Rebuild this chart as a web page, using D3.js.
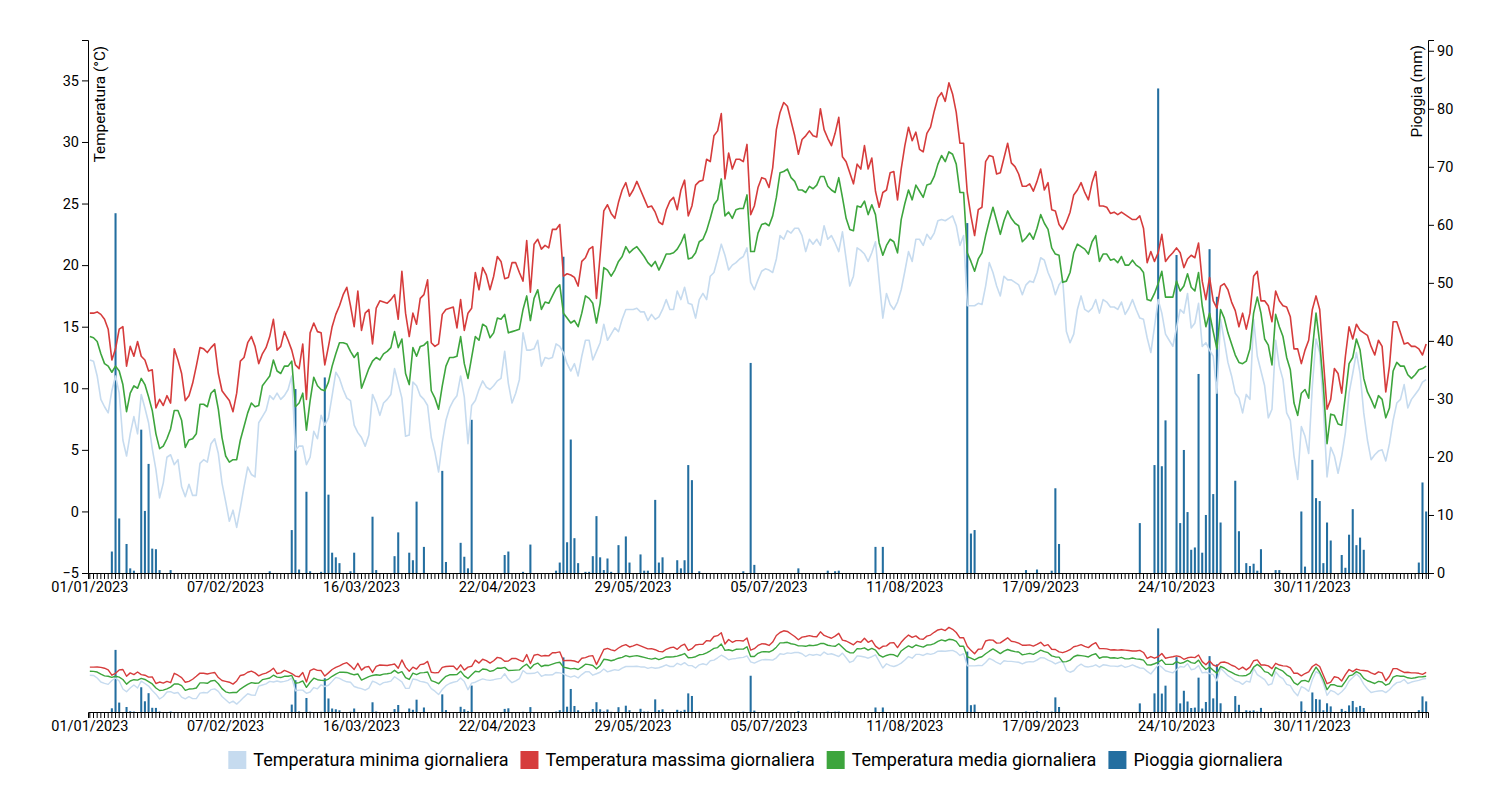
<!DOCTYPE html>
<html><head><meta charset="utf-8">
<script src="https://cdn.jsdelivr.net/npm/d3@7"></script>
<style>
body{margin:0;background:#fff;}
svg{font-family:Roboto, "Noto Sans", sans-serif;}
</style></head><body>
<svg id="chart" width="1496" height="796"></svg>
<script>
const startDate = "2023-01-01";
const tickLabels = ["01/01/2023","07/02/2023","16/03/2023","22/04/2023","29/05/2023","05/07/2023","11/08/2023","17/09/2023","24/10/2023","30/11/2023"];
const seriesNames = ["Temperatura minima giornaliera","Temperatura massima giornaliera","Temperatura media giornaliera","Pioggia giornaliera"];
const seriesColors = ["#c6dbef","#d63c3c","#3da53d","#236ea0"];
const yLeftTitle = "Temperatura (°C)";
const yRightTitle = "Pioggia (mm)";

const tMax = [
16.1,16.1,16.2,16.0,15.6,14.8,12.3,13.2,14.8,15.0,
11.8,13.4,12.6,13.8,12.6,12.3,11.4,11.5,8.4,9.1,
8.6,9.4,8.8,13.2,12.3,11.2,9.0,9.4,10.4,11.8,
13.3,13.2,12.9,13.3,13.6,11.2,9.8,9.4,9.0,8.1,
9.6,12.2,12.5,13.7,14.2,13.4,12.0,12.8,13.3,14.2,
15.6,13.1,13.4,14.6,13.9,13.1,11.9,11.6,13.6,9.1,
14.5,15.3,14.6,14.5,11.9,13.4,15.0,16.0,16.7,17.6,
18.2,16.7,15.0,17.9,14.7,16.1,16.4,13.6,16.5,17.1,
17.0,16.9,17.2,17.6,15.6,19.5,16.1,14.2,16.1,15.2,
17.3,17.6,18.8,13.7,13.4,13.6,16.0,16.4,16.5,16.6,
14.9,17.2,14.7,16.1,16.5,19.4,18.0,19.8,19.2,18.0,
19.1,20.7,20.3,18.9,19.0,20.2,20.2,19.4,18.7,22.0,
17.8,21.7,22.1,21.3,21.6,21.4,22.9,22.9,23.3,19.1,
19.3,19.2,19.0,18.3,20.3,20.6,21.3,21.5,17.3,20.8,
24.4,24.9,24.2,23.8,25.1,26.1,26.7,25.6,26.1,26.8,
26.1,25.4,24.7,24.8,24.3,23.5,23.3,24.5,25.2,25.5,
24.5,26.1,26.9,24.0,24.8,26.5,26.8,26.9,28.6,28.4,
30.5,30.9,32.3,27.0,29.1,27.8,28.6,28.6,28.4,29.8,
24.1,24.8,26.3,27.1,27.0,26.3,27.9,31.0,32.4,33.2,
32.9,31.7,30.5,29.0,30.2,30.5,30.9,30.5,30.4,32.7,
31.0,30.3,29.7,30.7,32.0,28.8,28.4,27.5,26.6,28.2,
27.8,29.7,27.8,28.7,26.0,24.7,25.9,26.1,27.5,27.6,
25.3,27.8,29.7,31.2,30.1,30.8,29.4,29.2,30.7,31.2,
32.5,33.6,34.0,33.3,34.8,33.9,32.4,29.9,29.9,25.9,
24.0,22.4,24.5,24.7,28.4,28.9,28.8,27.4,27.5,28.7,
29.9,28.3,28.0,27.4,26.4,26.4,26.6,26.0,26.8,27.8,
26.1,26.7,24.5,24.4,23.3,22.9,23.5,24.3,25.7,26.1,
26.7,25.9,25.3,26.7,27.6,24.8,24.8,24.7,24.2,24.3,
24.1,24.3,24.1,23.9,23.7,23.7,24.0,23.0,20.2,21.1,
20.3,21.0,22.5,20.3,20.7,21.0,21.4,21.0,19.8,20.5,
20.8,20.6,21.8,18.7,17.2,19.0,17.1,16.5,18.3,18.5,
18.0,17.0,16.3,15.0,16.1,14.8,16.1,19.1,19.5,17.1,
17.1,16.7,15.4,17.9,17.1,16.7,16.6,15.8,13.2,13.2,
12.0,13.1,13.9,16.4,17.5,16.4,12.3,8.3,9.1,11.6,
11.2,9.6,12.6,15.0,14.0,15.2,14.7,14.5,14.3,13.4,
12.7,13.9,13.4,9.7,11.8,15.4,15.4,14.5,13.6,13.7,
13.4,13.4,13.2,12.7,13.6];

const tAvg = [
14.2,14.1,13.8,12.8,12.0,11.8,11.3,11.8,11.4,10.3,
8.1,9.6,10.2,10.0,10.8,10.3,9.3,8.2,6.3,5.1,
5.3,5.9,6.7,8.2,8.2,7.4,5.2,5.8,5.9,6.3,
8.7,8.7,8.5,9.6,9.9,8.3,6.0,4.5,4.0,4.2,
4.2,5.8,6.9,8.0,8.8,8.5,8.6,10.2,10.6,11.0,
12.3,11.4,11.2,11.8,11.8,12.2,8.5,8.8,9.6,6.6,
9.0,10.9,10.2,9.9,9.8,10.5,11.8,12.8,13.7,13.7,
13.6,13.0,12.5,12.9,10.0,10.8,11.6,12.2,12.5,12.3,
12.8,13.0,13.3,14.6,13.3,14.0,11.2,10.3,13.3,12.6,
13.4,13.5,13.8,9.8,9.2,8.3,10.2,11.8,12.5,12.5,
12.6,14.2,12.0,10.8,12.5,14.2,13.9,15.2,15.0,14.1,
14.5,15.7,15.6,16.0,14.5,14.6,14.7,14.8,16.4,17.5,
15.5,17.3,18.0,16.4,17.0,16.9,17.5,18.1,18.4,16.1,
15.7,15.3,15.5,15.0,16.1,17.5,17.3,16.9,15.3,16.9,
19.8,19.6,19.1,19.6,20.3,20.7,21.5,21.0,21.3,21.5,
21.1,20.7,20.2,19.9,20.3,19.6,20.2,20.9,20.9,21.0,
21.3,21.8,22.5,20.5,20.6,21.0,21.9,22.1,22.8,23.8,
24.9,25.3,27.0,24.0,24.3,23.8,24.5,24.6,24.6,25.7,
21.1,21.1,22.6,23.3,23.4,23.2,24.0,25.5,27.5,27.6,
27.8,27.1,26.8,26.1,26.1,25.9,26.4,26.2,26.5,27.2,
27.2,26.4,26.1,25.9,27.1,25.5,23.8,22.9,22.8,24.8,
24.7,25.2,24.1,24.9,24.1,21.8,20.8,21.6,22.1,21.9,
21.0,23.7,25.0,26.1,25.3,26.5,26.0,25.5,26.5,26.6,
27.2,28.2,28.9,28.4,29.2,29.0,28.2,25.9,25.9,21.0,
20.3,19.5,20.5,21.0,22.4,23.6,24.7,23.6,22.5,23.6,
24.4,23.8,23.4,23.2,21.9,22.2,22.6,22.1,23.0,24.1,
23.4,22.9,21.4,20.9,20.8,18.6,18.7,19.4,21.0,21.7,
21.5,21.3,20.9,21.9,22.4,20.3,20.9,20.9,20.4,20.5,
20.2,20.7,20.0,20.0,20.4,20.0,19.8,19.4,17.2,17.1,
17.7,18.5,19.5,17.4,17.4,17.4,18.7,17.9,18.3,19.3,
18.2,17.9,19.4,16.7,15.0,16.1,14.6,13.2,16.4,15.7,
14.5,13.6,12.7,12.1,12.0,12.2,13.2,16.1,17.4,16.1,
14.0,13.5,11.9,16.0,15.0,14.2,12.5,11.5,8.8,7.8,
9.6,9.9,9.2,13.1,16.1,13.7,10.2,5.5,7.9,7.8,
7.1,7.0,9.4,12.0,12.5,14.0,13.1,10.8,9.7,9.1,
8.4,9.4,9.1,7.6,8.4,11.4,12.1,11.8,11.8,11.1,
10.8,11.1,11.5,11.6,11.8];

const tMin = [
12.3,12.2,11.0,9.1,8.5,8.0,9.8,11.0,9.6,5.8,
4.5,6.3,7.7,6.3,9.5,8.4,7.2,5.1,3.4,1.1,
2.3,4.4,4.6,3.8,4.2,2.0,1.2,2.2,1.3,1.3,
3.9,4.2,4.0,5.5,5.9,4.7,2.3,0.8,-0.8,0.1,
-1.3,0.3,2.0,3.6,3.0,2.8,7.2,7.7,8.2,9.4,
9.1,9.6,9.1,9.4,9.9,11.0,5.0,5.3,5.3,3.8,
4.4,6.5,5.9,7.8,7.0,7.6,9.4,11.3,10.8,9.9,
9.2,9.0,7.0,6.4,6.0,5.3,6.2,9.5,8.8,7.8,
8.8,9.1,9.5,11.6,10.4,9.2,6.1,6.2,10.5,10.2,
9.4,9.1,8.6,6.0,4.8,3.2,5.6,7.4,8.4,9.0,
9.4,11.0,9.3,5.5,8.6,9.0,9.9,10.6,10.1,9.9,
10.2,10.6,10.8,13.0,10.4,8.8,9.6,10.7,14.5,13.1,
13.1,13.2,13.9,11.8,12.5,12.4,12.5,13.6,13.4,12.9,
12.0,11.4,12.0,11.0,12.6,13.9,13.9,12.3,13.0,13.7,
15.2,13.9,14.4,14.9,14.6,15.6,16.4,16.4,16.4,16.5,
16.2,16.2,15.5,16.0,15.6,15.8,16.4,17.2,16.4,16.4,
17.9,17.2,18.2,16.9,16.8,15.7,17.2,17.7,17.2,19.1,
19.4,20.5,21.7,20.8,19.6,20.0,20.2,20.5,20.7,21.4,
18.6,18.0,18.8,19.5,19.7,19.6,19.4,20.5,22.4,22.1,
22.8,22.6,23.0,23.0,22.4,21.1,22.1,21.7,22.1,21.6,
23.2,22.1,22.4,21.8,21.1,22.7,20.5,18.3,19.1,21.4,
21.2,20.9,20.3,21.0,21.9,18.8,15.7,17.7,16.8,16.4,
17.0,18.0,19.5,21.1,20.3,22.1,22.1,21.6,22.5,22.1,
22.6,23.6,23.7,23.6,23.8,24.0,23.2,21.6,22.4,16.7,
16.7,16.7,16.9,16.8,18.3,20.2,19.4,18.3,17.5,19.1,
18.8,18.8,18.6,18.4,17.6,18.4,18.7,18.6,19.4,20.6,
20.4,19.4,18.7,17.6,18.4,18.8,14.6,13.7,14.4,16.4,
17.5,16.4,16.2,16.5,17.2,16.1,17.2,17.0,16.6,16.6,
16.4,17.0,16.0,16.5,17.2,16.4,15.7,15.6,14.1,12.9,
15.0,17.2,16.1,14.4,13.9,13.4,14.9,16.4,16.1,17.7,
14.9,15.3,16.9,13.4,13.7,13.1,12.6,9.6,15.6,13.9,
12.1,11.0,9.6,9.2,8.0,9.5,9.1,15.6,12.6,11.4,
10.2,7.6,8.3,13.9,11.8,10.7,8.0,7.4,4.5,2.6,
6.9,6.1,4.7,10.2,14.0,12.9,8.5,2.8,5.2,4.5,
3.1,4.5,6.4,9.6,11.2,12.9,11.2,8.0,5.8,4.2,
4.6,4.9,5.0,4.1,5.5,7.4,8.8,9.1,10.3,8.4,
9.1,9.5,9.9,10.5,10.7];

const rain = [
0,0,0,0,0,0,3.7,62.0,9.4,0,
5.0,0.8,0.4,0,24.7,10.7,18.8,4.2,4.1,0.5,
0,0,0.5,0,0,0,0,0,0,0,
0,0,0,0,0,0,0,0,0,0,
0,0,0,0,0,0,0,0,0,0.3,
0,0,0,0,0,7.4,31.7,0.6,0,14.0,
0.3,0,0,0.2,33.7,13.5,3.5,2.7,1.7,0,
0,0.3,3.5,0,0,0,0,9.7,0.5,0,
0,0,0,2.9,7.0,0,0,3.5,2.2,12.3,
0,4.5,0,0,0,0,17.6,1.9,0,0,
0,5.2,2.8,0.8,26.4,0,0,0,0,0,
0,0,0,3.1,3.7,0,0,0,0.2,0,
4.9,0,0,0,0,0,0,0.4,1.8,54.5,
5.3,23.0,6.0,1.7,0,0.2,0.2,2.9,9.8,2.7,
0.5,2.5,0.2,0,4.8,0,6.3,1.8,0,0,
3.2,0.4,0.4,0,12.6,1.8,2.7,0,0,0,
2.2,0.8,2.2,18.6,16.0,0,0.3,0,0,0,
0,0,0,0,0,0,0,0,0.3,0,
36.2,1.4,0,0,0,0,0,0,0,0,
0,0,0,0.8,0,0,0,0,0,0,
0,0.4,0,0.3,0.4,0,0,0,0,0,
0,0,0,0,4.5,0,4.5,0,0,0,
0,0,0,0,0,0,0,0,0,0,
0,0,0,0,0,0,0,0,0,60.3,
6.8,7.4,0,0,0,0,0,0,0,0,
0,0,0,0,0,0.5,0,0,0.6,0,
0,0,0.4,14.6,5.0,0,0,0,0,0,
0,0,0,0,0,0,0,0,0,0,
0,0,0,0,0,0,8.6,0,0,0,
18.6,83.5,18.4,26.3,0,0,54.8,8.6,21.2,10.5,
4.0,4.4,34.3,3.5,10.0,55.8,13.6,47.6,8.7,0,
0,0,15.9,7.2,0,1.7,1.2,1.6,0.4,4.1,
0,0,0,0.5,0.5,0,0,0,0,0,
10.6,1.1,0,19.5,12.9,12.4,1.7,8.7,5.6,0,
0,3.1,0.9,6.6,11.0,4.8,6.1,4.0,0,0,
0,0,0,0,0,0,0,0,0,0,
0,0,1.8,15.6,10.6];

const parse = d3.timeParse("%Y-%m-%d");
const fmt = d3.timeFormat("%d/%m/%Y");
const start = parse(startDate);
const dayLabels = tMax.map((_, i) => fmt(d3.timeDay.offset(start, i)));
const labelSet = new Set(tickLabels);

const svg = d3.select("#chart");
const M = {left: 88, right: 1428, top: 40, bottom: 573};
const C = {top: 620, bottom: 712};

const x = d3.scaleBand().domain(dayLabels).range([M.left, M.right]).padding(0);
const bw = x.bandwidth();
const cx = d => x(d) + bw / 2;

const tDomain = [-5, d3.max(tMax) * 1.1];
const rDomain = [0, d3.max(rain) * 1.1];
const yT = d3.scaleLinear().domain(tDomain).range([M.bottom, M.top]);
const yR = d3.scaleLinear().domain(rDomain).range([M.bottom, M.top]);
const yT2 = d3.scaleLinear().domain(tDomain).range([C.bottom, C.top]);
const yR2 = d3.scaleLinear().domain(rDomain).range([C.bottom, C.top]);

function drawPanel(g, yTs, yRs, lw) {
  g.append("g").selectAll("rect").data(rain.map((v, i) => ({d: dayLabels[i], v})).filter(o => o.v > 0))
    .join("rect")
    .attr("x", o => x(o.d) + bw * 0.22)
    .attr("width", bw * 0.56)
    .attr("y", o => yRs(o.v))
    .attr("height", o => yRs(0) - yRs(o.v))
    .attr("fill", seriesColors[3]);
  const series = [tMin, tMax, tAvg];
  series.forEach((s, k) => {
    const line = d3.line().x((v, i) => cx(dayLabels[i])).y(v => yTs(v));
    g.append("path").datum(s).attr("d", line)
      .attr("fill", "none").attr("stroke", seriesColors[k])
      .attr("stroke-width", lw).attr("stroke-linejoin", "round");
  });
}

drawPanel(svg.append("g"), yT, yR, 1.6);
drawPanel(svg.append("g"), yT2, yR2, 1.4);

function styleAxis(g) {
  g.attr("font-size", 14.5).attr("font-family", "Roboto, sans-serif");
  g.selectAll("text").attr("fill", "#000");
  g.selectAll("line,path").attr("stroke", "#000");
}

const xAxis = d3.axisBottom(x).tickValues(dayLabels).tickSize(6)
  .tickFormat(d => labelSet.has(d) ? d : "");
svg.append("g").attr("transform", `translate(0,${M.bottom})`).call(xAxis).call(styleAxis);
svg.append("g").attr("transform", `translate(0,${C.bottom})`).call(xAxis).call(styleAxis);

const yl = svg.append("g").attr("transform", `translate(${M.left},0)`).call(d3.axisLeft(yT)).call(styleAxis);
yl.append("text").attr("transform", "rotate(-90)").attr("x", -46).attr("y", 6).attr("dy", "0.71em")
  .attr("font-size", 15.3).attr("text-anchor", "end").attr("fill", "#000").text(yLeftTitle);

const yr = svg.append("g").attr("transform", `translate(${M.right},0)`).call(d3.axisRight(yR)).call(styleAxis);
yr.append("text").attr("transform", "rotate(-90)").attr("x", -45).attr("y", -6)
  .attr("font-size", 15.3).attr("text-anchor", "end").attr("fill", "#000").text(yRightTitle);

// legend
const lg = svg.append("g").attr("font-size", 18).attr("font-family", "Roboto, sans-serif");
const items = seriesNames.map((n, i) => {
  const g = lg.append("g");
  g.append("rect").attr("width", 18).attr("height", 18).attr("y", -9).attr("fill", seriesColors[i]);
  const t = g.append("text").attr("x", 25).attr("dy", "0.35em").attr("fill", "#000").text(n);
  return {g, w: 25 + t.node().getComputedTextLength()};
});
const gap = 12;
const total = d3.sum(items, it => it.w) + gap * (items.length - 1);
let xpos = 755.5 - total / 2;
items.forEach(it => { it.g.attr("transform", `translate(${xpos},760)`); xpos += it.w + gap; });
</script>
</body></html>
